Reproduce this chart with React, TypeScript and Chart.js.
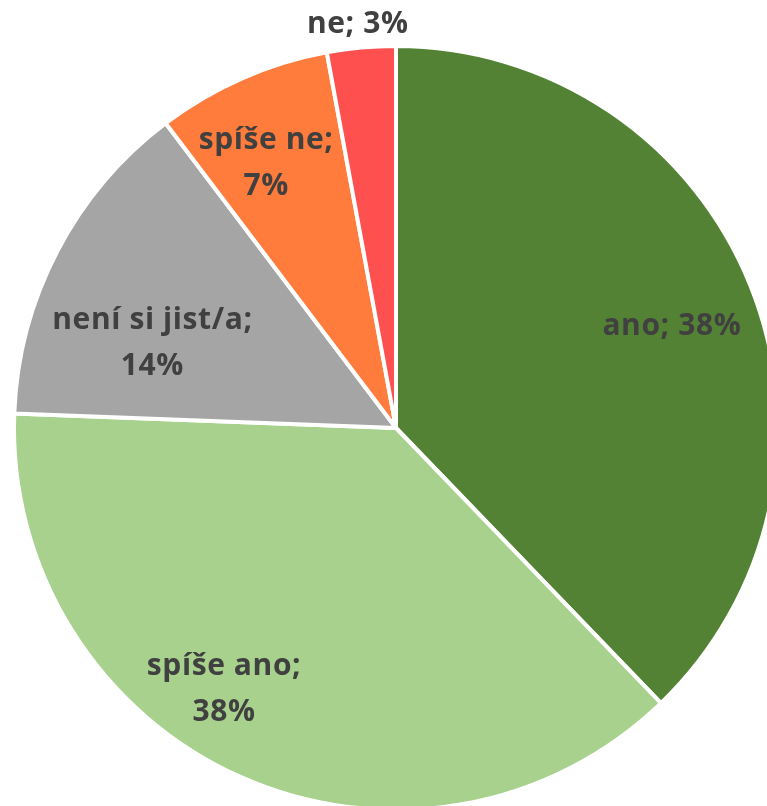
import React, { useEffect, useRef } from "react";
import { Chart, registerables } from "chart.js";

Chart.register(...registerables);

const categories = ["ano", "spíše ano", "není si jist/a", "spíše ne", "ne"];
const values = [37.8, 37.8, 14.1, 7.4, 2.9];
const colors = ["#548235", "#A9D18E", "#A5A5A5", "#FF7C3C", "#FF5050"];

// label placement in polar coordinates: [angle in degrees from top, clockwise; radius fraction]
const labelPolar: [number, number][] = [
  [69.5, 0.775],
  [213.5, 0.82],
  [289.5, 0.68],
  [334, 0.78],
  [354.6, 1.07],
];
// whether label wraps onto two lines
const labelWrap = [false, true, true, true, false];

const labelPlugin = {
  id: "sliceLabels",
  afterDatasetsDraw(chart: any) {
    const meta = chart.getDatasetMeta(0);
    const ctx = chart.ctx;
    const arc0 = meta.data[0];
    if (!arc0) return;
    const cx = arc0.x;
    const cy = arc0.y;
    const r = arc0.outerRadius - 2;
    const total = values.reduce((a, b) => a + b, 0);
    ctx.save();
    ctx.fillStyle = "#404040";
    ctx.font = "bold 30px 'Open Sans'";
    (ctx as any).letterSpacing = "0.6px";
    ctx.textAlign = "center";
    ctx.textBaseline = "alphabetic";
    const lineH = 46;
    categories.forEach((cat, i) => {
      const pct = Math.round((values[i] / total) * 100) + "%";
      const [deg, frac] = labelPolar[i];
      const a = (deg * Math.PI) / 180;
      const x = cx + Math.sin(a) * r * frac;
      const y = cy - Math.cos(a) * r * frac;
      if (labelWrap[i]) {
        ctx.fillText(cat + ";", x, y - lineH / 2 + 10);
        ctx.fillText(pct, x, y + lineH / 2 + 10);
      } else {
        ctx.fillText(cat + "; " + pct, x, y + 10);
      }
    });
    ctx.restore();
  },
};

export default function App() {
  const ref = useRef<HTMLCanvasElement>(null);
  useEffect(() => {
    if (!ref.current) return;
    const chart = new Chart(ref.current, {
      type: "pie",
      data: {
        labels: categories,
        datasets: [
          {
            data: values,
            backgroundColor: colors,
            borderColor: "#ffffff",
            borderWidth: 4,
          },
        ],
      },
      options: {
        responsive: false,
        animation: false,
        devicePixelRatio: 1,
        radius: 382,
        layout: { padding: { left: 16, top: 48, right: 24, bottom: 42 } },
        plugins: {
          legend: { display: false },
          tooltip: { enabled: false },
        },
      } as any,
      plugins: [labelPlugin],
    });
    return () => chart.destroy();
  }, []);
  return (
    <div
      style={{
        position: "absolute",
        left: 0,
        top: 0,
        width: 767,
        height: 806,
        overflow: "hidden",
        background: "#fff",
      }}
    >
      <canvas ref={ref} width={800} height={850} style={{ display: "block" }} />
    </div>
  );
}
